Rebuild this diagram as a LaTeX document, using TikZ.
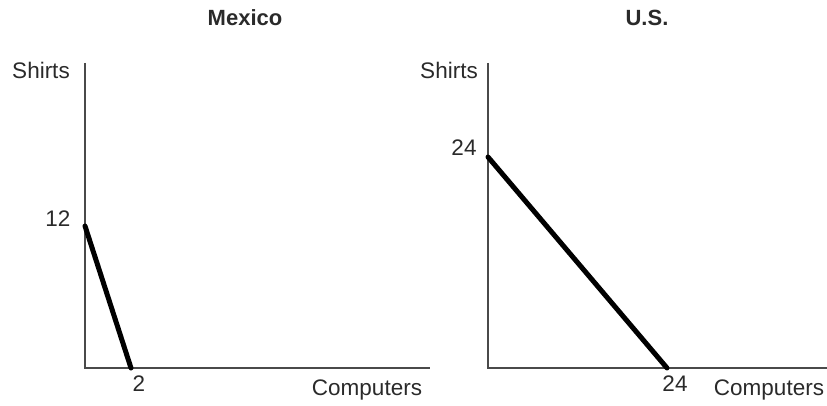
\documentclass[tikz,border=0pt]{standalone}
\usepackage{fontspec}
\setmainfont{Liberation Sans}
\usepackage{tikz}
\usetikzlibrary{positioning}
\definecolor{axisgray}{HTML}{4A4A4A}
\definecolor{textgray}{HTML}{2A2A2A}

\begin{document}
\begin{tikzpicture}[x=1pt,y=-1pt,
  every node/.style={inner sep=0pt,text height=0.72em,text depth=0pt,
    text=textgray,font=\fontsize{22.5}{27}\selectfont},
  axis/.style={draw=axisgray,line width=1.8pt},
  ppf/.style={draw=black,line width=5pt,line cap=round}]
\useasboundingbox (0,0) rectangle (827,406);
% Mexico
\coordinate (mo) at (85,368);
\coordinate (mtop) at (85,63);
\coordinate (mend) at (430,368);
\coordinate (ms) at (85,226);
\coordinate (mc) at (131,368);
\draw[axis] (mtop) -- (mo) -- (mend);
\draw[ppf] (ms) -- (mc);
\node[font=\fontsize{22}{27}\selectfont\bfseries] (mtitle) at (245,22) {Mexico};
\node (mshirts) at (41,75) {Shirts};
\node (m12) at (58,223) {12};
\node (m2) at (139,388) {2};
\node (mcomp) at (367,392) {Computers};
% U.S.
\coordinate (uo) at (488,368);
\coordinate (utop) at (488,63);
\coordinate (uend) at (827,368);
\coordinate (us) at (488,157);
\coordinate (uc) at (667,368);
\draw[axis] (utop) -- (uo) -- (uend);
\draw[ppf] (us) -- (uc);
\node[font=\fontsize{22}{27}\selectfont\bfseries] (utitle) at (647,22) {U.S.};
\node (ushirts) at (449,75) {Shirts};
\node (u24) at (464,152) {24};
\node (u24b) at (675,388) {24};
\node (ucomp) at (769,392) {Computers};
\end{tikzpicture}
\end{document}
